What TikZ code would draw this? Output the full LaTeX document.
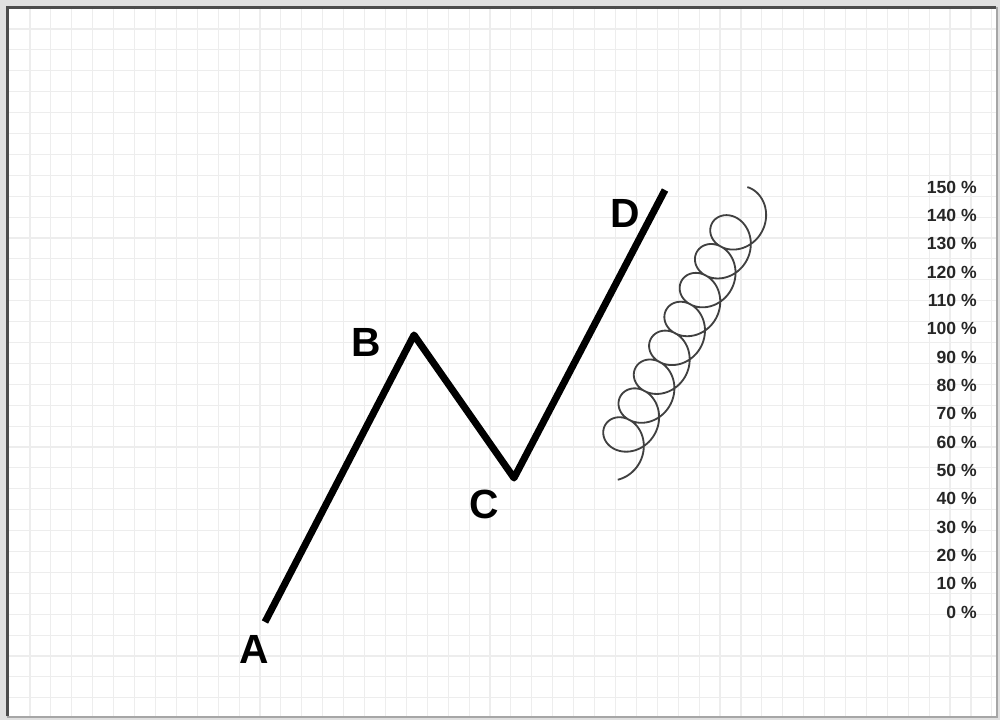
\documentclass[tikz,border=0pt]{standalone}
\usepackage{fontspec}
\setmainfont{Liberation Sans}
\tikzset{
    wavelabel/.style={font=\fontsize{29}{29}\selectfont\bfseries, inner sep=0pt},
    levellabel/.style={font=\fontsize{12.5}{12.5}\selectfont\bfseries, anchor=east, inner sep=0pt, text=black!85},
}
\begin{document}
\begin{tikzpicture}[x=0.025cm, y=-0.025cm]
    \useasboundingbox (0,0) rectangle (1000,720);
    \fill[black!12] (0,0) rectangle (1000,720);
    \fill[white] (9,9) rectangle (996,716);

    \foreach \i in {0,...,46} {
        \draw[black!7, line width=0.8pt] ({30+20.91*\i},9) -- ({30+20.91*\i},716);
    }
    \foreach \j in {0,...,32} {
        \draw[black!7, line width=0.8pt] (9,{29+20.9*\j}) -- (996,{29+20.9*\j});
    }

    \draw[black!70, line width=2.4pt] (7.5,716) -- (7.5,7.5) -- (996,7.5);
    \draw[black!35, line width=1.2pt] (997,7) -- (997,717) -- (7,717);

    \coordinate (A) at (265,622);
    \coordinate (B) at (414,335);
    \coordinate (C) at (514,478);
    \coordinate (D) at (665,190);
    \draw[line width=5pt, line join=round] (A) -- (B) -- (C) -- (D);

    \node[wavelabel] (labA) at (254,649) {A};
    \node[wavelabel] (labB) at (366,342) {B};
    \node[wavelabel] (labC) at (484,504) {C};
    \node[wavelabel] (labD) at (625,213) {D};

    \draw[black!75, line width=1.3pt, smooth]
        plot[domain=-1.5:51.77, samples=700, variable=\t]
        ({619.7 + 2.433*\t + 24*cos(\t r)}, {448.9 - 4.595*\t - 24*sin(\t r)});

    \foreach \p in {0,...,15} {
        \pgfmathtruncatemacro{\lvl}{10*\p}
        \node[levellabel] (lvl\p) at (977,{612-28.33*\p}) {\lvl\ \%};
    }
\end{tikzpicture}
\end{document}
